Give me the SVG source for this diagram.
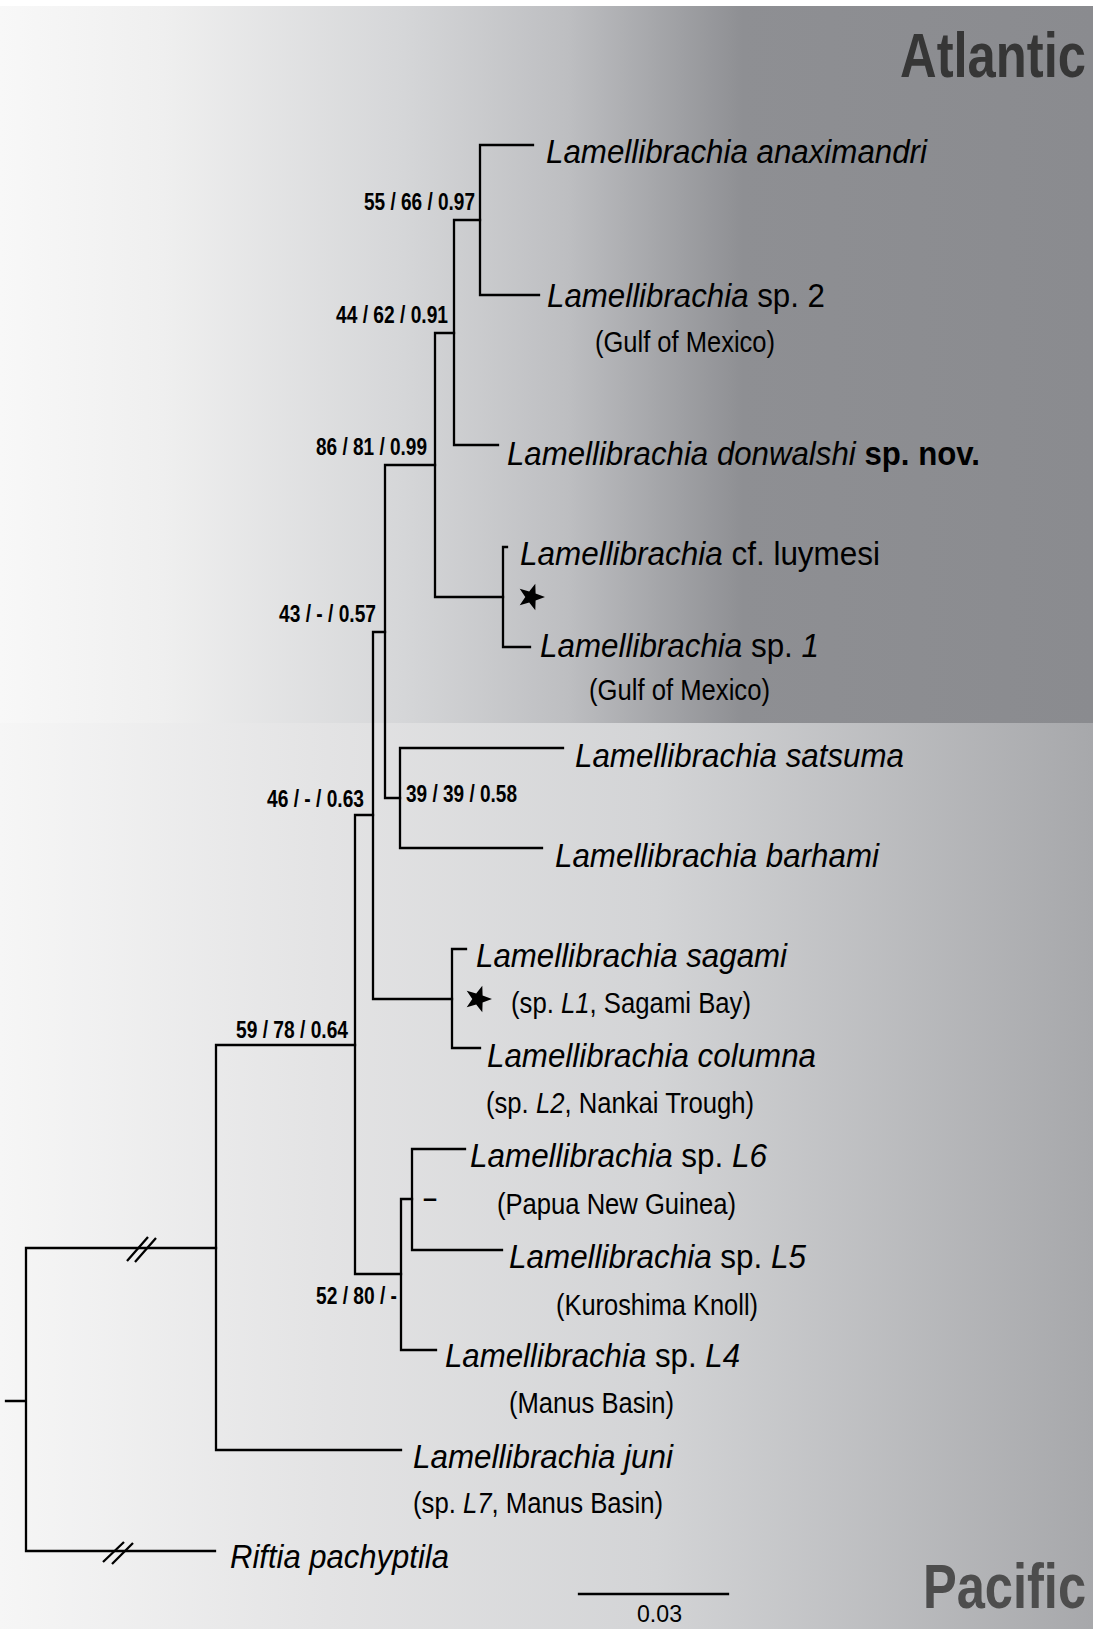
<svg xmlns="http://www.w3.org/2000/svg" width="1093" height="1629" viewBox="0 0 1093 1629">
<defs>
<linearGradient id="gAtl" x1="0" y1="0" x2="1093" y2="0" gradientUnits="userSpaceOnUse">
<stop offset="0" stop-color="#f8f8f8"/>
<stop offset="0.15" stop-color="#efefef"/>
<stop offset="0.37" stop-color="#d5d6d8"/>
<stop offset="0.52" stop-color="#bdbec1"/>
<stop offset="0.68" stop-color="#8e8f93"/>
<stop offset="1" stop-color="#8a8b8f"/>
</linearGradient>
<linearGradient id="gPac" x1="0" y1="0" x2="1093" y2="0" gradientUnits="userSpaceOnUse">
<stop offset="0" stop-color="#f6f6f6"/>
<stop offset="0.3" stop-color="#e3e3e4"/>
<stop offset="0.6" stop-color="#d3d4d6"/>
<stop offset="1" stop-color="#a7a8ab"/>
</linearGradient>
<path id="star" d="M14,0 L4.6,3.4 L4.3,13.3 L-1.8,5.5 L-11.3,8.2 L-5.7,0 L-11.3,-8.2 L-1.8,-5.5 L4.3,-13.3 L4.6,-3.4 Z"/>
<style>
text{font-family:"Liberation Sans",Arial,sans-serif;fill:#000}
.sp{font-size:33px}
.loc{font-size:30px}
.bs{font-size:24px;font-weight:bold}
.i{font-style:italic}
.b{font-weight:bold}
.reg{font-size:63px;font-weight:bold}
.br{fill:none;stroke:#000;stroke-width:2.3;stroke-linecap:square;stroke-linejoin:miter}
.sl{fill:none;stroke:#000;stroke-width:2.3}
</style>
</defs>
<g id="background">
<rect x="0" y="0" width="1093" height="1629" fill="#ffffff"/>
<rect x="0" y="6" width="1093" height="717" fill="url(#gAtl)"/>
<rect x="0" y="723" width="1093" height="906" fill="url(#gPac)"/>
</g>
<g id="regions">
<text id="atlantic" class="reg" x="900" y="77" textLength="186" lengthAdjust="spacingAndGlyphs" style="fill:#363636">Atlantic</text>
<text id="pacific" class="reg" x="923" y="1608" textLength="163" lengthAdjust="spacingAndGlyphs" style="fill:#4d4d4d">Pacific</text>
</g>
<g id="connectors">
<path class="br" d="M6,1401 H26 M26,1248 V1551 M26,1248 H216 M26,1551 H215"/>
<path class="br" d="M216,1045 V1450 M216,1045 H355 M216,1450 H401"/>
<path class="br" d="M355,815 V1274 M355,815 H373 M355,1274 H401"/>
<path class="br" d="M401,1199 V1350 M401,1199 H412 M401,1350 H436"/>
<path class="br" d="M412,1149 V1250 M412,1149 H465 M412,1250 H502"/>
<path class="br" d="M373,632 V999 M373,632 H385 M373,999 H452"/>
<path class="br" d="M452,949 V1048 M452,949 H466 M452,1048 H480"/>
<path class="br" d="M385,465 V798 M385,465 H435 M385,798 H400"/>
<path class="br" d="M400,748 V848 M400,748 H563 M400,848 H542"/>
<path class="br" d="M435,333 V597 M435,333 H454 M435,597 H503"/>
<path class="br" d="M503,547 V647 M503,547 H507 M503,647 H530"/>
<path class="br" d="M454,220 V445 M454,220 H480 M454,445 H498"/>
<path class="br" d="M480,145 V295 M480,145 H533 M480,295 H539"/>
<path class="sl" d="M127,1261 L148,1237 M135,1262 L156,1238"/>
<path class="sl" d="M103,1562 L124,1542 M112,1564 L133,1543"/>
</g>
<g id="scalebar">
<path class="br" d="M579,1594 H728"/>
<text x="637" y="1622" font-size="24" textLength="45" lengthAdjust="spacingAndGlyphs">0.03</text>
</g>
<g id="markers">
<use href="#star" x="531" y="597"/>
<use href="#star" x="478" y="999"/>
</g>
<g id="support">
<text class="bs" x="364" y="210" textLength="111" lengthAdjust="spacingAndGlyphs">55 / 66 / 0.97</text>
<text class="bs" x="336" y="323" textLength="112" lengthAdjust="spacingAndGlyphs">44 / 62 / 0.91</text>
<text class="bs" x="316" y="455" textLength="111" lengthAdjust="spacingAndGlyphs">86 / 81 / 0.99</text>
<text class="bs" x="279" y="622" textLength="97" lengthAdjust="spacingAndGlyphs">43 / - / 0.57</text>
<text class="bs" x="406" y="802" textLength="111" lengthAdjust="spacingAndGlyphs">39 / 39 / 0.58</text>
<text class="bs" x="267" y="807" textLength="97" lengthAdjust="spacingAndGlyphs">46 / - / 0.63</text>
<text class="bs" x="236" y="1038" textLength="112" lengthAdjust="spacingAndGlyphs">59 / 78 / 0.64</text>
<text class="bs" x="316" y="1304" textLength="81" lengthAdjust="spacingAndGlyphs">52 / 80 / -</text>
<text class="bs" x="423" y="1206" textLength="14" lengthAdjust="spacingAndGlyphs">–</text>
</g>
<g id="n-anaximandri"><text class="sp i" x="546" y="163" textLength="381" lengthAdjust="spacingAndGlyphs">Lamellibrachia anaximandri</text></g>
<g id="n-sp2">
<text class="sp" x="547" y="307" textLength="278" lengthAdjust="spacingAndGlyphs"><tspan class="i">Lamellibrachia</tspan> sp. 2</text>
<text class="loc" x="595" y="352" textLength="180" lengthAdjust="spacingAndGlyphs">(Gulf of Mexico)</text>
</g>
<g id="n-donwalshi"><text class="sp" x="507" y="465" textLength="473" lengthAdjust="spacingAndGlyphs"><tspan class="i">Lamellibrachia donwalshi</tspan> <tspan class="b">sp. nov.</tspan></text></g>
<g id="n-luymesi"><text class="sp" x="520" y="565" textLength="360" lengthAdjust="spacingAndGlyphs"><tspan class="i">Lamellibrachia</tspan> cf. luymesi</text></g>
<g id="n-sp1">
<text class="sp" x="540" y="657" textLength="279" lengthAdjust="spacingAndGlyphs"><tspan class="i">Lamellibrachia</tspan> sp. <tspan class="i">1</tspan></text>
<text class="loc" x="589" y="700" textLength="181" lengthAdjust="spacingAndGlyphs">(Gulf of Mexico)</text>
</g>
<g id="n-satsuma"><text class="sp i" x="575" y="767" textLength="329" lengthAdjust="spacingAndGlyphs">Lamellibrachia satsuma</text></g>
<g id="n-barhami"><text class="sp i" x="555" y="867" textLength="324" lengthAdjust="spacingAndGlyphs">Lamellibrachia barhami</text></g>
<g id="n-sagami">
<text class="sp i" x="476" y="967" textLength="311" lengthAdjust="spacingAndGlyphs">Lamellibrachia sagami</text>
<text class="loc" x="511" y="1013" textLength="240" lengthAdjust="spacingAndGlyphs">(sp. <tspan class="i">L1</tspan>, Sagami Bay)</text>
</g>
<g id="n-columna">
<text class="sp i" x="487" y="1067" textLength="329" lengthAdjust="spacingAndGlyphs">Lamellibrachia columna</text>
<text class="loc" x="486" y="1113" textLength="268" lengthAdjust="spacingAndGlyphs">(sp. <tspan class="i">L2</tspan>, Nankai Trough)</text>
</g>
<g id="n-L6">
<text class="sp" x="470" y="1167" textLength="297" lengthAdjust="spacingAndGlyphs"><tspan class="i">Lamellibrachia</tspan> sp. <tspan class="i">L6</tspan></text>
<text class="loc" x="497" y="1214" textLength="239" lengthAdjust="spacingAndGlyphs">(Papua New Guinea)</text>
</g>
<g id="n-L5">
<text class="sp" x="509" y="1268" textLength="297" lengthAdjust="spacingAndGlyphs"><tspan class="i">Lamellibrachia</tspan> sp. <tspan class="i">L5</tspan></text>
<text class="loc" x="556" y="1315" textLength="202" lengthAdjust="spacingAndGlyphs">(Kuroshima Knoll)</text>
</g>
<g id="n-L4">
<text class="sp" x="445" y="1367" textLength="295" lengthAdjust="spacingAndGlyphs"><tspan class="i">Lamellibrachia</tspan> sp. <tspan class="i">L4</tspan></text>
<text class="loc" x="509" y="1413" textLength="165" lengthAdjust="spacingAndGlyphs">(Manus Basin)</text>
</g>
<g id="n-juni">
<text class="sp i" x="413" y="1468" textLength="260" lengthAdjust="spacingAndGlyphs">Lamellibrachia juni</text>
<text class="loc" x="413" y="1513" textLength="250" lengthAdjust="spacingAndGlyphs">(sp. <tspan class="i">L7</tspan>, Manus Basin)</text>
</g>
<g id="n-riftia"><text class="sp i" x="230" y="1568" textLength="219" lengthAdjust="spacingAndGlyphs">Riftia pachyptila</text></g>
</svg>
